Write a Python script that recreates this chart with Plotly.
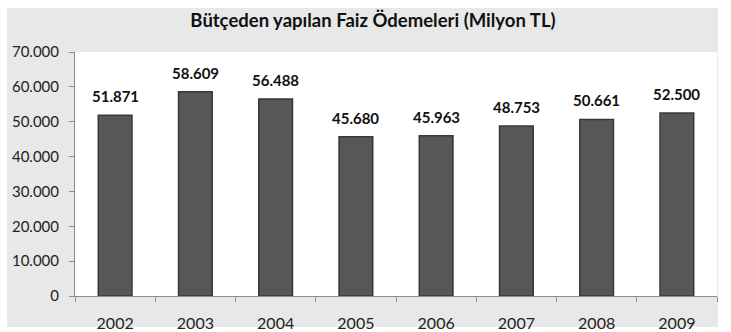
import plotly.graph_objects as go

years = ["2002", "2003", "2004", "2005", "2006", "2007", "2008", "2009"]
values = [51871, 58609, 56488, 45680, 45963, 48753, 50661, 52500]
y_ticks = [0, 10000, 20000, 30000, 40000, 50000, 60000, 70000]

W, H = 731, 332
L, R, T, B = 75, 14, 52, 36
pw, ph = W - L - R, H - T - B

def px_x(x):
    return (x - L) / pw

def px_y(y):
    return (H - B - y) / ph

fig = go.Figure()
fig.add_trace(go.Bar(
    x=years, y=values,
    marker=dict(color="#575757", line=dict(color="#383838", width=1.5)),
    width=0.42,
    hoverinfo="x+y",
))

for i, v in enumerate(values):
    fig.add_annotation(
        x=i, y=v, xref="x", yref="y",
        text="<b>" + f"{v:,d}".replace(",", ".") + "</b>",
        showarrow=False, yanchor="bottom", yshift=8,
        font=dict(family="Lato", size=15, color="#111111"),
    )

fig.update_layout(
    width=W, height=H,
    margin=dict(l=L, r=R, t=T, b=B, autoexpand=False),
    separators=",.",
    paper_bgcolor="white",
    plot_bgcolor="white",
    showlegend=False,
    title=dict(text="<b>Bütçeden yapılan Faiz Ödemeleri (Milyon TL)</b>",
               x=(373 / W), xanchor="center", y=1 - 21 / H, yanchor="middle",
               font=dict(family="Lato", size=18.5, color="#111111")),
    font=dict(family="Lato", size=15, color="#222222"),
    shapes=[
        dict(type="rect", xref="paper", yref="paper", layer="below",
             x0=px_x(7), x1=px_x(718), y0=px_y(327), y1=px_y(8),
             fillcolor="#e8e8e8", line=dict(width=0)),
        dict(type="rect", xref="paper", yref="paper", layer="below",
             x0=0, x1=1, y0=0, y1=1,
             fillcolor="white", line=dict(width=0)),
    ],
)
fig.update_yaxes(range=[0, 70000], tickvals=y_ticks, tickformat=",d",
                 showgrid=False, zeroline=False, automargin=False,
                 showline=True, linecolor="#8c8c8c", linewidth=1,
                 ticks="outside", ticklen=5, tickcolor="#8c8c8c",
                 ticklabelstandoff=7, tickfont=dict(size=15))
fig.update_xaxes(type="category", categoryarray=years, range=[-0.5, len(years) - 0.5],
                 automargin=False,
                 showgrid=False, showline=True, linecolor="#8c8c8c", linewidth=1,
                 ticks="outside", ticklen=5, tickcolor="#8c8c8c",
                 tickson="boundaries", ticklabelstandoff=13, tickangle=0,
                 tickfont=dict(size=16))

fig.write_html("out.html")
